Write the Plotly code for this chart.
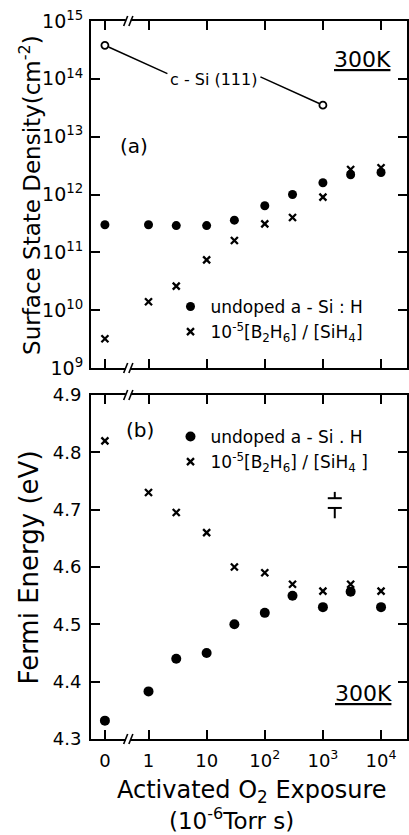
import math
import plotly.graph_objects as go

# ---------------- data ----------------
exposure = [0, 1, 3, 10, 30, 100, 300, 1000, 3000, 10000]       # 1e-6 Torr s
ZERO_POS = 10 ** -0.75   # where "0" sits on the broken log axis

nss_undoped = [3.0e11, 3.0e11, 2.9e11, 2.9e11, 3.6e11, 6.4e11, 1.0e12, 1.6e12, 2.2e12, 2.4e12]
nss_doped = [3.2e9, 1.4e10, 2.6e10, 7.4e10, 1.6e11, 3.1e11, 4.0e11, 9.0e11, 2.7e12, 2.9e12]
csi_exposure = [0, 1000]
csi_nss = [3.8e14, 3.5e13]

ef_undoped = [4.332, 4.383, 4.44, 4.45, 4.50, 4.52, 4.55, 4.53, 4.557, 4.53]
ef_doped = [4.82, 4.73, 4.695, 4.66, 4.60, 4.59, 4.57, 4.558, 4.57, 4.558]

err_x = [1600]
err_upper = [4.731, 4.720]   # stem top, cap
err_lower = [4.703, 4.685]   # cap, stem bottom

x_tick_vals = [0, 1, 10, 100, 1000, 10000]
x_tick_text = ["0", "1", "10", "10<sup>2</sup>", "10<sup>3</sup>", "10<sup>4</sup>"]
y1_tick_exp = [9, 10, 11, 12, 13, 14, 15]
y2_tick_vals = [4.3, 4.4, 4.5, 4.6, 4.7, 4.8, 4.9]

leg_top = ["undoped a - Si : H",
           "10<sup>-5</sup>[B<sub>2</sub>H<sub>6</sub>] / [SiH<sub>4</sub>]"]
leg_bot = ["undoped a - Si . H",
           "10<sup>-5</sup>[B<sub>2</sub>H<sub>6</sub>] / [SiH<sub>4</sub> ]"]


def pos(v):
    return ZERO_POS if v == 0 else v


xp = [pos(v) for v in exposure]
csi_xp = [pos(v) for v in csi_exposure]

# ---------------- layout geometry ----------------
W, H = 409, 835
L, R, T, B = 91, 0, 21, 96
PW, PH = W - L - R, H - T - B


def px(xpix):
    return (xpix - L) / PW


def py(ypix):
    return (H - B - ypix) / PH


top_dom = [py(368), 1.0]
bot_dom = [0.0, py(395)]

TXT = "DejaVu Sans, Verdana, sans-serif"
TICK_FONT = dict(family=TXT, size=18, color="black")
BLACK = "black"

fig = go.Figure()

# top panel
fig.add_trace(go.Scatter(x=csi_xp, y=csi_nss, mode="markers", showlegend=False,
                         marker=dict(symbol="circle-open", size=7, color=BLACK, line=dict(width=1.8, color=BLACK)),
                         xaxis="x", yaxis="y"))
fig.add_trace(go.Scatter(x=xp, y=nss_undoped, mode="markers", name=leg_top[0], legend="legend",
                         marker=dict(symbol="circle", size=9, color=BLACK), xaxis="x", yaxis="y"))
fig.add_trace(go.Scatter(x=xp, y=nss_doped, mode="markers", name=leg_top[1], legend="legend",
                         marker=dict(symbol="x-thin", size=7, color=BLACK, line=dict(width=2.3, color=BLACK)),
                         xaxis="x", yaxis="y"))

# bottom panel
fig.add_trace(go.Scatter(x=xp, y=ef_undoped, mode="markers", name=leg_bot[0], legend="legend2",
                         marker=dict(symbol="circle", size=10, color=BLACK), xaxis="x2", yaxis="y2"))
fig.add_trace(go.Scatter(x=xp, y=ef_doped, mode="markers", name=leg_bot[1], legend="legend2",
                         marker=dict(symbol="x-thin", size=7, color=BLACK, line=dict(width=2.3, color=BLACK)),
                         xaxis="x2", yaxis="y2"))
# error indicator
fig.add_trace(go.Scatter(x=err_x * 2 + [None] + err_x * 2, y=err_upper + [None] + err_lower,
                         mode="lines", line=dict(color=BLACK, width=2), showlegend=False,
                         xaxis="x2", yaxis="y2", hoverinfo="skip"))
fig.add_trace(go.Scatter(x=err_x * 2, y=[err_upper[1], err_lower[0]], mode="markers", showlegend=False,
                         marker=dict(symbol="line-ew", size=10, line=dict(width=2, color=BLACK)),
                         xaxis="x2", yaxis="y2", hoverinfo="skip"))

xrange = [math.log10(ZERO_POS) - (105 - 91) / 58.5, math.log10(ZERO_POS) + (409 - 105) / 58.5]
x_tick_pos = [pos(v) for v in x_tick_vals]

axis_common = dict(showline=True, linewidth=2, linecolor=BLACK, mirror="ticks", ticks="inside",
                   ticklen=9, tickwidth=2, tickcolor=BLACK, showgrid=False, zeroline=False)

fig.update_layout(
    width=W, height=H, margin=dict(l=L, r=R, t=T, b=B),
    paper_bgcolor="white", plot_bgcolor="white",
    font=dict(family=TXT, color=BLACK),
    xaxis=dict(type="log", range=xrange, tickvals=x_tick_pos, showticklabels=False, anchor="y",
               tickfont=TICK_FONT, **axis_common),
    xaxis2=dict(type="log", range=xrange, tickvals=x_tick_pos, ticktext=x_tick_text, anchor="y2",
                matches="x", ticklabelstandoff=4, tickfont=TICK_FONT, **axis_common),
    yaxis=dict(type="log", range=[9, 15], domain=top_dom, anchor="x",
               tickvals=[10 ** e for e in y1_tick_exp],
               ticktext=[f"10<sup>{e}</sup>" for e in y1_tick_exp], ticklabelstandoff=2,
               tickfont=dict(family=TXT, size=19, color=BLACK), **axis_common),
    yaxis2=dict(range=[4.3, 4.9], domain=bot_dom, anchor="x2", tickvals=y2_tick_vals,
                ticktext=[f"{v:.1f}" for v in y2_tick_vals], ticklabelstandoff=4,
                tickfont=TICK_FONT, **axis_common),
    legend=dict(x=px(171), y=py(289), xanchor="left", yanchor="top", bgcolor="rgba(0,0,0,0)",
                font=dict(family=TXT, size=17, color=BLACK), borderwidth=0, tracegroupgap=0),
    legend2=dict(x=px(171), y=py(419), xanchor="left", yanchor="top", bgcolor="rgba(0,0,0,0)",
                 font=dict(family=TXT, size=17, color=BLACK), borderwidth=0, tracegroupgap=0),
)

ann = []
# axis titles
ann.append(dict(text="Surface State Density(cm<sup>-2</sup>)", xref="paper", yref="y domain", x=px(29), y=0.5,
                textangle=-90, showarrow=False, font=dict(size=23, family=TXT), xanchor="center", yanchor="middle"))
ann.append(dict(text="Fermi Energy (eV)", xref="paper", yref="y2 domain", x=px(29), y=0.5,
                textangle=-90, showarrow=False, font=dict(size=26, family=TXT), xanchor="center", yanchor="middle"))
ann.append(dict(text="Activated O<sub>2</sub> Exposure", xref="paper", yref="paper", x=px(253), y=py(791),
                showarrow=False, font=dict(size=24, family=TXT), xanchor="center", yanchor="middle"))
ann.append(dict(text="(10<sup>-6</sup>Torr s)", xref="paper", yref="paper", x=px(232), y=py(819),
                showarrow=False, font=dict(size=23, family=TXT), xanchor="center", yanchor="middle"))
# panel labels
for txt, xx, yy in [("(a)", 134, 146), ("(b)", 140, 430)]:
    ann.append(dict(text=txt, xref="paper", yref="paper", x=px(xx), y=py(yy), showarrow=False,
                    font=dict(size=20, family=TXT), xanchor="center", yanchor="middle"))
for xx, yy in [(364, 60), (365, 693)]:
    ann.append(dict(text="<u>300K</u>", xref="paper", yref="paper", x=px(xx), y=py(yy), showarrow=False,
                    font=dict(size=22, family=TXT), xanchor="center", yanchor="middle"))
# c-Si(111) label with leader lines
ann.append(dict(text="c - Si (111)", xref="paper", yref="paper", x=px(214), y=py(80), showarrow=False,
                font=dict(size=16, family=TXT), xanchor="center", yanchor="middle"))
ann.append(dict(text="", x=math.log10(csi_xp[0]), y=math.log10(csi_nss[0]), xref="x", yref="y",
                showarrow=True, arrowhead=0, arrowwidth=1.5, arrowcolor=BLACK, ax=64, ay=29, standoff=4))
ann.append(dict(text="", x=math.log10(csi_xp[1]), y=math.log10(csi_nss[1]), xref="x", yref="y",
                showarrow=True, arrowhead=0, arrowwidth=1.5, arrowcolor=BLACK, ax=-64, ay=-29, standoff=4))
fig.update_layout(annotations=ann)

# axis-break marks
shapes = []
bx = px(128.5)
for yref, yv in [("y domain", 0), ("y domain", 1), ("y2 domain", 0), ("y2 domain", 1)]:
    shapes.append(dict(type="rect", xref="paper", yref=yref, xsizemode="pixel", ysizemode="pixel",
                       xanchor=bx, yanchor=yv, x0=-2.5, x1=2.5, y0=-2.5, y1=2.5,
                       fillcolor="white", line=dict(width=0), layer="above"))
    for dx in (-2.6, 2.6):
        shapes.append(dict(type="line", xref="paper", yref=yref, xsizemode="pixel", ysizemode="pixel",
                           xanchor=bx, yanchor=yv, x0=dx - 2, x1=dx + 2, y0=-5, y1=5,
                           line=dict(color=BLACK, width=1.6), layer="above"))
fig.update_layout(shapes=shapes)

fig.write_html("out.html")
